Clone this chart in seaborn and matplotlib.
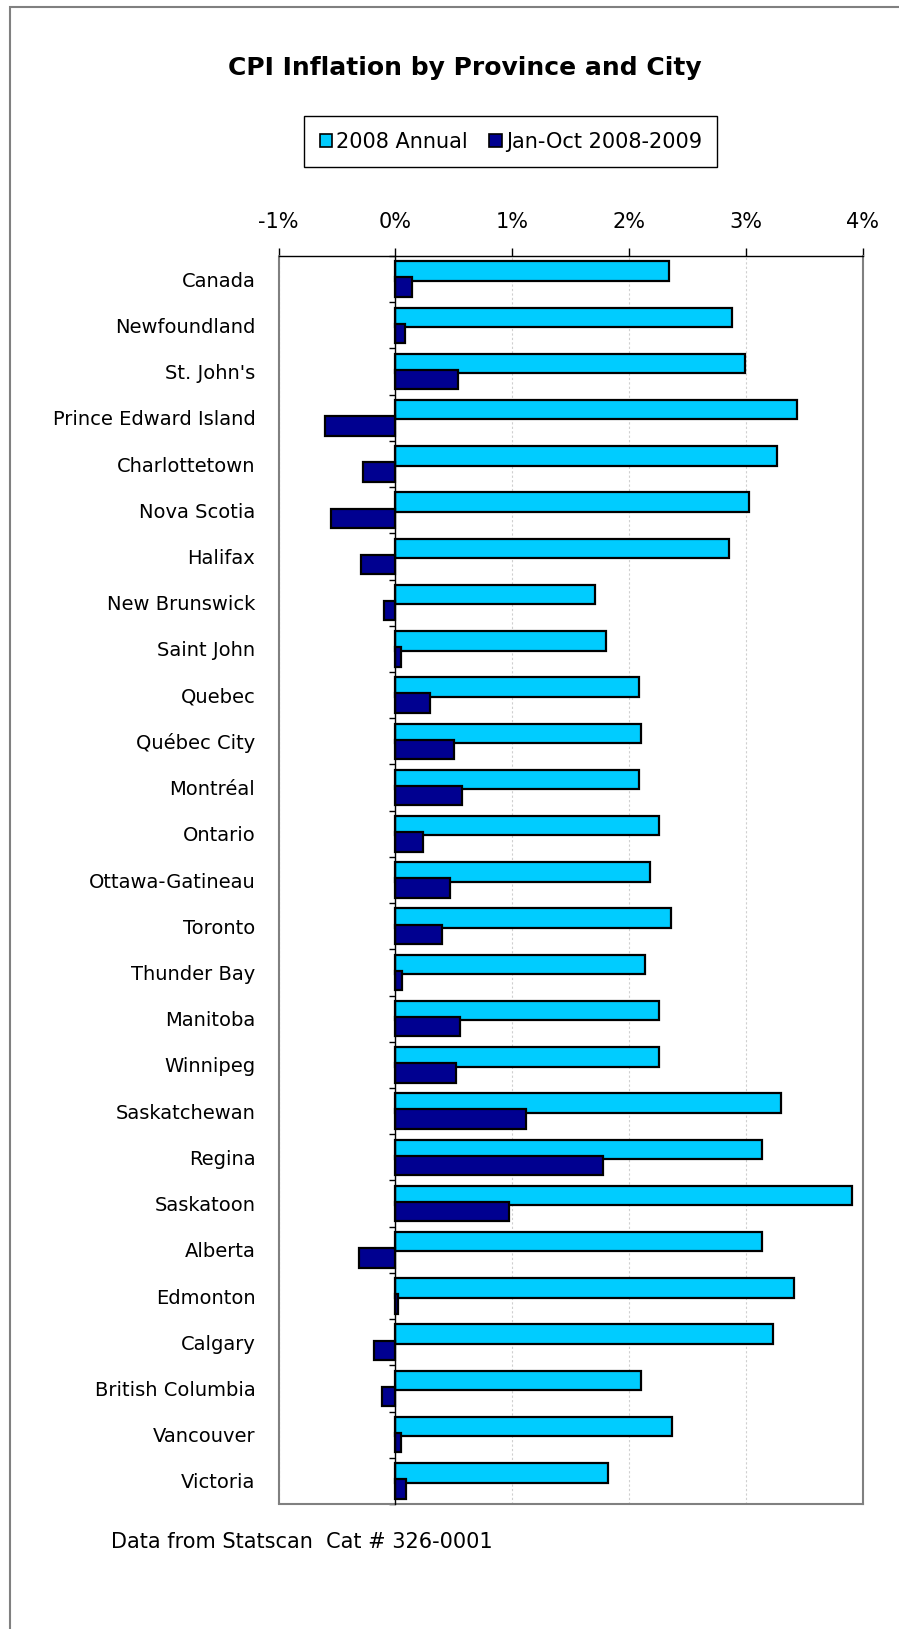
import numpy as np
import pandas as pd
import matplotlib
matplotlib.use("Agg")
import matplotlib.pyplot as plt
from matplotlib.patches import Rectangle, Patch
from matplotlib.lines import Line2D
import seaborn as sns

# ---------------- data ----------------
regions = ["Canada", "Newfoundland", "St. John's", "Prince Edward Island",
           "Charlottetown", "Nova Scotia", "Halifax", "New Brunswick",
           "Saint John", "Quebec", "Québec City", "Montréal", "Ontario",
           "Ottawa-Gatineau", "Toronto", "Thunder Bay", "Manitoba", "Winnipeg",
           "Saskatchewan", "Regina", "Saskatoon", "Alberta", "Edmonton",
           "Calgary", "British Columbia", "Vancouver", "Victoria"]
annual_2008 = [2.34, 2.88, 2.99, 3.44, 3.27, 3.03, 2.86, 1.71, 1.80, 2.09,
               2.10, 2.09, 2.26, 2.18, 2.36, 2.14, 2.26, 2.26, 3.30, 3.14,
               3.91, 3.14, 3.41, 3.23, 2.10, 2.37, 1.82]
janoct_0809 = [0.14, 0.08, 0.54, -0.60, -0.28, -0.55, -0.29, -0.10, 0.05, 0.30,
               0.50, 0.57, 0.24, 0.47, 0.40, 0.06, 0.55, 0.52, 1.12, 1.78,
               0.97, -0.31, 0.02, -0.18, -0.11, 0.05, 0.09]
series_names = ["2008 Annual", "Jan-Oct 2008-2009"]
xtick_values = [-1, 0, 1, 2, 3, 4]
xtick_labels = ["-1%", "0%", "1%", "2%", "3%", "4%"]
title = "CPI Inflation by Province and City"
footer = "Data from Statscan  Cat # 326-0001"

colors = ["#00CCFF", "#000090"]

# ---------------- style ----------------
sns.set_theme(style="white")
plt.rcParams["font.family"] = ["DejaVu Sans"]
plt.rcParams["text.color"] = "black"
plt.rcParams["axes.labelcolor"] = "black"
plt.rcParams["xtick.color"] = "black"
plt.rcParams["ytick.color"] = "black"
plt.rcParams["xtick.labelcolor"] = "black"
plt.rcParams["ytick.labelcolor"] = "black"

W, H = 899, 1629
fig = plt.figure(figsize=(W / 100, H / 100), dpi=100)
left, right, top, bottom = 278.5, 862.6, 256.0, 1504.0
ax = fig.add_axes([left / W, 1 - bottom / H, (right - left) / W, (bottom - top) / H])

df = pd.DataFrame({
    "region": regions * 2,
    "series": [series_names[0]] * len(regions) + [series_names[1]] * len(regions),
    "value": annual_2008 + janoct_0809,
})

sns.barplot(data=df, x="value", y="region", hue="series", hue_order=series_names,
            palette=colors, orient="h", width=0.70, saturation=1,
            edgecolor="black", linewidth=1.6, errorbar=None, legend=False, ax=ax)

# Excel-style overlapping bars: widen each bar around its own centre
bar_h = 0.42
for p in ax.patches:
    c = p.get_y() + p.get_height() / 2
    p.set_height(bar_h)
    p.set_y(c - bar_h / 2)

ax.set_xlim(-1, 4)
ax.set_ylim(len(regions) - 0.5, -0.5)
ax.set_xlabel("")
ax.set_ylabel("")

# x axis on top
ax.xaxis.tick_top()
ax.set_xticks(xtick_values)
ax.set_xticklabels(xtick_labels)
ax.tick_params(axis="x", which="major", direction="out", length=5.5, width=1,
               color="black", labelcolor="black", pad=11.5, labelsize=15,
               top=True, bottom=False)

# grid
ax.set_axisbelow(True)
ax.grid(axis="x", color="#cfcfcf", linestyle=(0, (2, 2)), linewidth=0.8)
ax.grid(axis="y", visible=False)

# category axis at zero
ax.spines["left"].set_position(("data", 0))
ax.spines["left"].set_color("black")
ax.spines["left"].set_linewidth(1.0)
ax.spines["left"].set_zorder(3)
ax.set_yticks(np.arange(len(regions)))
ax.set_yticklabels(regions)
ax.set_yticks(np.arange(-0.5, len(regions), 1), minor=True)
ax.tick_params(axis="y", which="major", length=0, pad=100.8, labelsize=14,
               labelcolor="black")
ax.tick_params(axis="y", which="minor", direction="out", length=4, width=1,
               color="black", left=True)

ax.spines["top"].set_color("black")
ax.spines["top"].set_linewidth(1.0)
for s in ["right", "bottom"]:
    ax.spines[s].set_color("#808080")
    ax.spines[s].set_linewidth(1.5)
ax.add_line(Line2D([0, 0], [0, 1], transform=ax.transAxes, color="#808080",
                   lw=1.5, clip_on=False))

# title
fig.text(465 / W, 1 - 67.5 / H, title, ha="center", va="center",
         fontsize=18, fontweight="bold", color="black")

# legend
handles = [Patch(facecolor=c, edgecolor="black", linewidth=1.2) for c in colors]
leg = fig.legend(handles, series_names, loc="center",
                 bbox_to_anchor=(510.8 / W, 1 - 141.7 / H), ncol=2,
                 frameon=True, fancybox=False, edgecolor="black", framealpha=1,
                 fontsize=15, handlelength=0.6, handleheight=0.6,
                 handletextpad=0.2, columnspacing=1.0, borderpad=0.75,
                 labelcolor="black")
leg.get_frame().set_linewidth(1.0)

# footer
fig.text(111 / W, 1 - 1542 / H, footer, ha="left", va="center", fontsize=15,
         color="black")

# outer chart frame (only left/top visible)
fig.patches.append(Rectangle((10 / W, -0.05), 1.2, 1 - 7 / H + 0.05,
                             transform=fig.transFigure, fill=False,
                             edgecolor="#808080", linewidth=1.5))

fig.savefig("out.png", dpi=100)
